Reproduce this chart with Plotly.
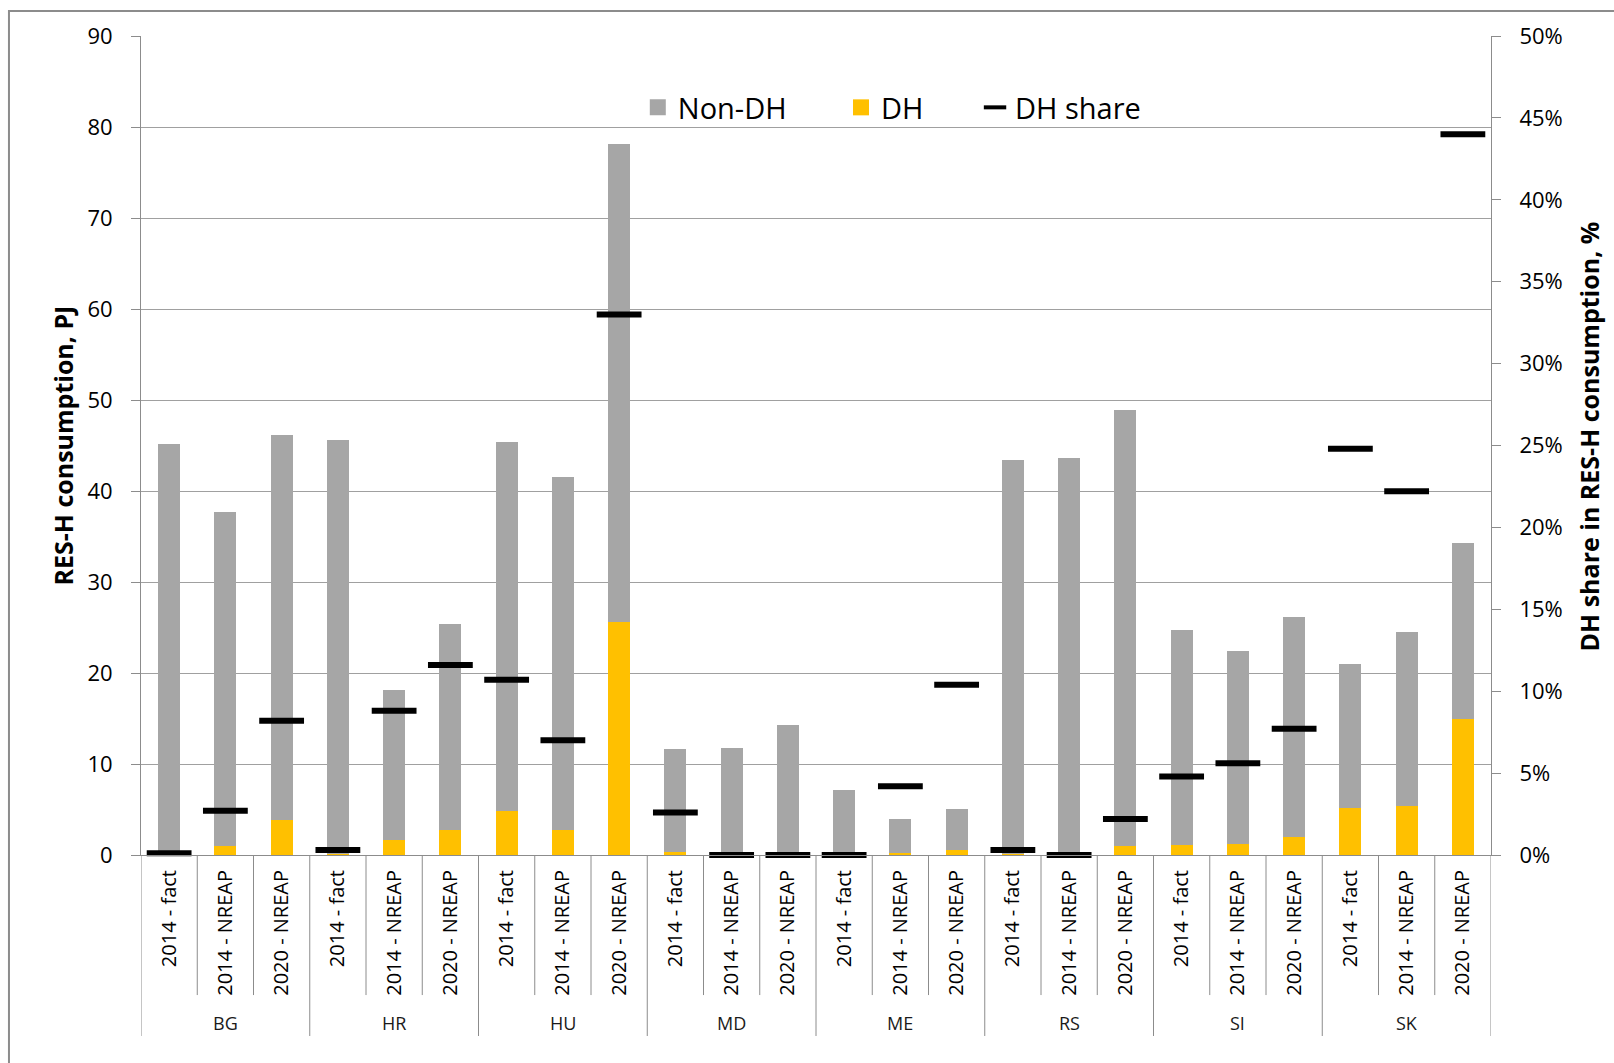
import plotly.graph_objects as go

# Countries and scenarios (two-level category axis)
countries = ["BG", "HR", "HU", "MD", "ME", "RS", "SI", "SK"]
scenarios = ["2014 - fact", "2014 - NREAP", "2020 - NREAP"]

# RES-H consumption, PJ
dh = [0.05, 1.0, 3.8, 0.15, 1.6, 2.8, 4.85, 2.8, 25.6,
      0.3, 0.0, 0.0, 0.0, 0.17, 0.5, 0.13, 0.0, 1.0,
      1.1, 1.2, 1.95, 5.2, 5.4, 14.95]
non_dh = [45.15, 36.7, 42.4, 45.5, 16.5, 22.6, 40.55, 38.7, 52.5,
          11.3, 11.8, 14.25, 7.1, 3.83, 4.55, 43.27, 43.6, 47.95,
          23.6, 21.2, 24.25, 15.8, 19.1, 19.35]
# DH share in RES-H consumption, %
dh_share = [0.1, 2.7, 8.2, 0.3, 8.8, 11.6, 10.7, 7.0, 33.0,
            2.6, 0.0, 0.0, 0.0, 4.2, 10.4, 0.3, 0.0, 2.2,
            4.8, 5.6, 7.7, 24.8, 22.2, 44.0]

GRAY = "#a6a6a6"
ORANGE = "#ffc000"
LINE = "#8c8c8c"
FONT = "Open Sans"

n_sc = len(scenarios)
labels = [s for _ in countries for s in scenarios]
xpos = list(range(len(labels)))

fig = go.Figure()
fig.add_trace(go.Bar(x=xpos, y=dh, marker_color=ORANGE, width=0.39,
                     name="DH", showlegend=False, marker_line_width=0))
fig.add_trace(go.Bar(x=xpos, y=non_dh, marker_color=GRAY, width=0.39,
                     name="Non-DH", showlegend=False, marker_line_width=0))
fig.add_trace(go.Scatter(x=xpos, y=[v / 100 for v in dh_share], yaxis="y2",
                         mode="markers", name="DH share", showlegend=False,
                         cliponaxis=False,
                         marker=dict(symbol="line-ew", size=32, color="black",
                                     line=dict(width=6, color="black"))))

# legend entries, each in its own legend box
fig.add_trace(go.Scatter(x=[None], y=[None], mode="markers", name="Non-DH",
                         marker=dict(symbol="square", size=19, color=GRAY),
                         legend="legend"))
fig.add_trace(go.Scatter(x=[None], y=[None], mode="markers", name="DH",
                         marker=dict(symbol="square", size=19, color=ORANGE),
                         legend="legend2"))
fig.add_trace(go.Scatter(x=[None], y=[None], mode="markers", name="DH share",
                         marker=dict(symbol="line-ew", size=21,
                                     line=dict(width=4, color="black")),
                         legend="legend3"))

leg_common = dict(orientation="h", yanchor="middle", y=0.9127, xanchor="left",
                  bgcolor="rgba(0,0,0,0)", font=dict(family=FONT, size=29, color="black"),
                  itemsizing="trace")

# category separators and country labels
shapes = []
annotations = []
for i in range(len(labels) + 1):
    is_group = i % n_sc == 0
    shapes.append(dict(type="line", xref="x", yref="paper",
                       x0=i - 0.5, x1=i - 0.5, y0=0,
                       y1=-0.221 if is_group else -0.171,
                       line=dict(color=LINE, width=1)))
for g, c in enumerate(countries):
    annotations.append(dict(x=g * n_sc + (n_sc - 1) / 2, y=-0.205, xref="x", yref="paper",
                            text=c, showarrow=False, yanchor="middle",
                            font=dict(family=FONT, size=18, color="#1a1a1a")))

# axis titles
annotations.append(dict(x=-0.0585, y=0.5, xref="paper", yref="paper",
                        xanchor="center", yanchor="middle",
                        text="<b>RES-H consumption, PJ</b>", showarrow=False, textangle=-90,
                        font=dict(family=FONT, size=25, color="black")))
annotations.append(dict(x=1.0733, y=0.511, xref="paper", yref="paper",
                        xanchor="center", yanchor="middle",
                        text="<b>DH share in RES-H consumption, %</b>", showarrow=False,
                        textangle=-90, font=dict(family=FONT, size=25, color="black")))

# chart frame
shapes.append(dict(type="rect", xref="paper", yref="paper", x0=-0.0978, x1=1.3,
                   y0=-0.5, y1=1.0305, line=dict(color=LINE, width=2), layer="below"))

fig.update_layout(
    width=1614, height=1063,
    margin=dict(l=141, r=123, t=36, b=208),
    plot_bgcolor="white", paper_bgcolor="white",
    barmode="stack", bargap=0,
    font=dict(family=FONT, color="black"),
    xaxis=dict(range=[-0.5, len(labels) - 0.5], tickvals=xpos, ticktext=labels,
               tickangle=-90, ticks="", showgrid=False, showline=True,
               linecolor=LINE, linewidth=1, zeroline=False,
               tickfont=dict(family=FONT, size=20, color="black"),
               ticklabelstandoff=6),
    yaxis=dict(range=[0, 90], dtick=10, showgrid=True, gridcolor="#a0a0a0", gridwidth=1,
               showline=True, linecolor=LINE, ticks="outside", ticklen=9, tickcolor=LINE,
               zeroline=False, tickfont=dict(family=FONT, size=22, color="black"),
               ticklabelstandoff=14),
    yaxis2=dict(range=[0, 0.5], dtick=0.05, tickformat=".0%", overlaying="y", side="right",
                showgrid=False, showline=True, linecolor=LINE, ticks="outside", ticklen=9,
                tickcolor=LINE, zeroline=False,
                tickfont=dict(family=FONT, size=22, color="black"),
                ticklabelstandoff=14),
    legend=dict(x=0.368, **leg_common),
    legend2=dict(x=0.5185, **leg_common),
    legend3=dict(x=0.6178, **leg_common),
    shapes=shapes,
    annotations=annotations,
)

fig.write_html("out.html")
